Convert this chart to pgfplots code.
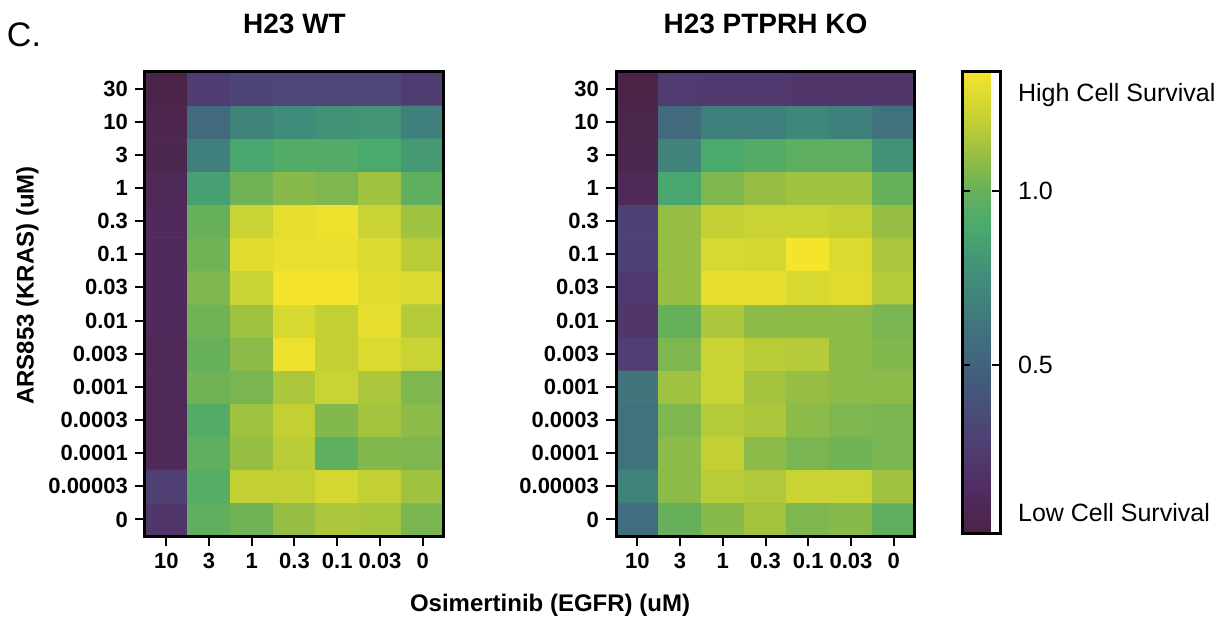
\documentclass[border=0pt]{standalone}
\usepackage{fontspec}
\setmainfont{Liberation Sans}
\usepackage{pgfplots}
\pgfplotsset{compat=1.18}
\pgfplotsset{colormap={surv}{
 rgb255(2pt)=(73,36,68);
 rgb255(15pt)=(82,44,100);
 rgb255(30pt)=(78,66,116);
 rgb255(45pt)=(68,90,124);
 rgb255(60pt)=(64,114,126);
 rgb255(75pt)=(64,140,122);
 rgb255(90pt)=(74,170,108);
 rgb255(100pt)=(102,176,92);
 rgb255(110pt)=(150,190,68);
 rgb255(120pt)=(194,208,52);
 rgb255(134pt)=(244,228,44)}}
\pgfplotsset{hm/.style={
  scale only axis, width=149.5pt, height=232pt, anchor=south west,
  xmin=-0.5, xmax=6.5, ymin=-0.5, ymax=13.5, enlargelimits=false,
  xtick={0,...,6}, xticklabels={10,3,1,0.3,0.1,0.03,0},
  ytick={0,...,13},
  yticklabels={0,0.00003,0.0001,0.0003,0.001,0.003,0.01,0.03,0.1,0.3,1,3,10,30},
  tick pos=left, tick align=outside, major tick length=5pt,
  every tick/.style={black, line width=1pt},
  axis line style={black, line width=1.5pt},
  axis on top,
  tick label style={font=\fontsize{11}{13}\selectfont\bfseries},
  colormap name=surv, point meta min=0.02, point meta max=1.34,
  title style={font=\fontsize{14}{16}\selectfont\bfseries, at={(0.5,1)}, anchor=south, yshift=9.5pt},
  }}
\begin{document}
\begin{tikzpicture}
\path[use as bounding box] (-72.5pt,-42.5pt) rectangle (542.5pt,268pt);
\begin{axis}[hm, at={(0pt,0pt)}, title={H23 WT},
  ylabel={ARS853 (KRAS) (uM)},
  ylabel style={font=\fontsize{12}{14}\selectfont\bfseries, at={(ticklabel cs:0.54)}, yshift=-2pt}]
\addplot[matrix plot*, mesh/cols=7, point meta=explicit] coordinates {
(0,0)[0.22] (1,0)[0.98] (2,0)[1.02] (3,0)[1.10] (4,0)[1.15] (5,0)[1.14] (6,0)[1.04]
(0,1)[0.28] (1,1)[0.95] (2,1)[1.20] (3,1)[1.20] (4,1)[1.25] (5,1)[1.20] (6,1)[1.12]
(0,2)[0.10] (1,2)[0.98] (2,2)[1.10] (3,2)[1.18] (4,2)[0.98] (5,2)[1.06] (6,2)[1.05]
(0,3)[0.10] (1,3)[0.93] (2,3)[1.12] (3,3)[1.20] (4,3)[1.06] (5,3)[1.13] (6,3)[1.08]
(0,4)[0.10] (1,4)[1.02] (2,4)[1.04] (3,4)[1.15] (4,4)[1.22] (5,4)[1.15] (6,4)[1.05]
(0,5)[0.10] (1,5)[1.00] (2,5)[1.08] (3,5)[1.32] (4,5)[1.20] (5,5)[1.27] (6,5)[1.22]
(0,6)[0.12] (1,6)[1.02] (2,6)[1.12] (3,6)[1.26] (4,6)[1.20] (5,6)[1.30] (6,6)[1.17]
(0,7)[0.12] (1,7)[1.05] (2,7)[1.22] (3,7)[1.35] (4,7)[1.34] (5,7)[1.28] (6,7)[1.27]
(0,8)[0.12] (1,8)[1.02] (2,8)[1.28] (3,8)[1.31] (4,8)[1.31] (5,8)[1.27] (6,8)[1.18]
(0,9)[0.12] (1,9)[1.00] (2,9)[1.22] (3,9)[1.30] (4,9)[1.32] (5,9)[1.22] (6,9)[1.12]
(0,10)[0.10] (1,10)[0.85] (2,10)[1.02] (3,10)[1.07] (4,10)[1.05] (5,10)[1.12] (6,10)[0.98]
(0,11)[0.07] (1,11)[0.68] (2,11)[0.88] (3,11)[0.93] (4,11)[0.93] (5,11)[0.90] (6,11)[0.82]
(0,12)[0.06] (1,12)[0.55] (2,12)[0.70] (3,12)[0.75] (4,12)[0.78] (5,12)[0.80] (6,12)[0.68]
(0,13)[0.04] (1,13)[0.26] (2,13)[0.31] (3,13)[0.33] (4,13)[0.33] (5,13)[0.33] (6,13)[0.26]
};
\end{axis}
\begin{axis}[hm, at={(235.5pt,0pt)}, title={H23 PTPRH KO},
  colorbar,
  colorbar style={at={(parent axis.north east)}, anchor=north west, xshift=15pt,
    scale only axis, width=19pt, height=230.5pt,
    axis line style={black, line width=1.5pt},
    ytick={0.5,1.0}, yticklabels={0.5,1.0},
    extra y ticks={0.078,1.273},
    extra y tick labels={Low Cell Survival,High Cell Survival},
    extra y tick style={tick style={draw=none}},
    yticklabel pos=right, ytick pos=both, tick align=inside,
    major tick length=4pt,
    every tick/.style={black, line width=1pt},
    yticklabel style={font=\fontsize{12.5}{15}\selectfont, xshift=5.5pt}}]
\addplot[matrix plot*, mesh/cols=7, point meta=explicit] coordinates {
(0,0)[0.57] (1,0)[1.00] (2,0)[1.07] (3,0)[1.13] (4,0)[1.05] (5,0)[1.07] (6,0)[0.98]
(0,1)[0.70] (1,1)[1.08] (2,1)[1.18] (3,1)[1.16] (4,1)[1.22] (5,1)[1.22] (6,1)[1.12]
(0,2)[0.60] (1,2)[1.08] (2,2)[1.20] (3,2)[1.08] (4,2)[1.04] (5,2)[1.02] (6,2)[1.04]
(0,3)[0.60] (1,3)[1.05] (2,3)[1.17] (3,3)[1.15] (4,3)[1.08] (5,3)[1.05] (6,3)[1.04]
(0,4)[0.62] (1,4)[1.12] (2,4)[1.22] (3,4)[1.13] (4,4)[1.10] (5,4)[1.08] (6,4)[1.08]
(0,5)[0.28] (1,5)[1.05] (2,5)[1.22] (3,5)[1.18] (4,5)[1.17] (5,5)[1.08] (6,5)[1.06]
(0,6)[0.22] (1,6)[1.00] (2,6)[1.15] (3,6)[1.08] (4,6)[1.08] (5,6)[1.08] (6,6)[1.04]
(0,7)[0.24] (1,7)[1.10] (2,7)[1.30] (3,7)[1.30] (4,7)[1.26] (5,7)[1.28] (6,7)[1.17]
(0,8)[0.30] (1,8)[1.10] (2,8)[1.26] (3,8)[1.25] (4,8)[1.35] (5,8)[1.27] (6,8)[1.15]
(0,9)[0.30] (1,9)[1.10] (2,9)[1.20] (3,9)[1.22] (4,9)[1.22] (5,9)[1.20] (6,9)[1.10]
(0,10)[0.10] (1,10)[0.88] (2,10)[1.05] (3,10)[1.10] (4,10)[1.12] (5,10)[1.12] (6,10)[1.00]
(0,11)[0.07] (1,11)[0.70] (2,11)[0.90] (3,11)[0.94] (4,11)[0.97] (5,11)[0.97] (6,11)[0.78]
(0,12)[0.05] (1,12)[0.55] (2,12)[0.68] (3,12)[0.68] (4,12)[0.72] (5,12)[0.68] (6,12)[0.60]
(0,13)[0.03] (1,13)[0.25] (2,13)[0.24] (3,13)[0.24] (4,13)[0.22] (5,13)[0.22] (6,13)[0.22]
};
\end{axis}
\node[font=\fontsize{12}{14}\selectfont\bfseries] at (202.5pt,-34.5pt) {Osimertinib (EGFR) (uM)};
\node[font=\fontsize{17}{19}\selectfont] at (-60.5pt,250.5pt) {C.};
\end{tikzpicture}
\end{document}
